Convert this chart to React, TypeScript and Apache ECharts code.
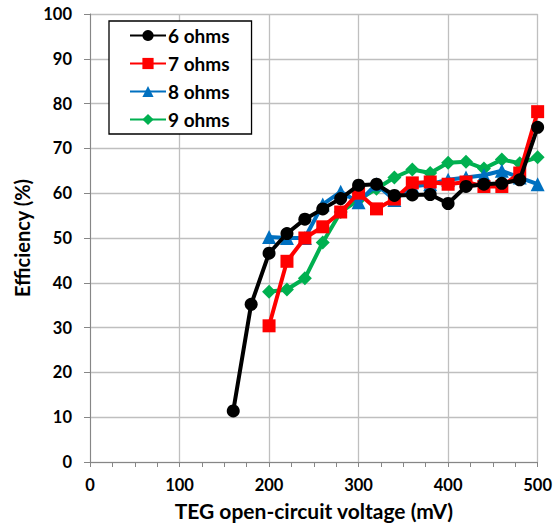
import React, { useEffect, useRef } from "react";
import * as echarts from "echarts";

const voltages = [160, 180, 200, 220, 240, 260, 280, 300, 320, 340, 360, 380, 400, 420, 440, 460, 480, 500];
const ohm6 = [11.4, 35.2, 46.6, 51, 54.2, 56.5, 58.8, 61.8, 62, 59.5, 59.6, 59.7, 57.7, 61.5, 62, 62.2, 63, 74.7];
const ohm7 = [null, null, 30.4, 44.8, 50, 52.5, 55.8, 60, 56.5, 58.7, 62.3, 62.5, 62, 62.5, 61.5, 61.5, 64.5, 78.2];
const ohm8 = [null, null, 50.2, 50, 50, 57.5, 60.3, 58, 62, 58.5, 61.5, 62, 63, 63.5, 64, 65, 63.5, 62];
const ohm9 = [null, null, 38, 38.5, 41, 49, 55.8, 58.5, 61, 63.5, 65.3, 64.5, 66.8, 67, 65.5, 67.5, 66.7, 68];
const seriesNames = ["6 ohms", "7 ohms", "8 ohms", "9 ohms"];
const seriesColors = ["#000000", "#ff0000", "#0070c0", "#00b050"];
const seriesSymbols = ["circle", "rect", "triangle", "diamond"];
const seriesSizes = [13, 13, 14, 14];

const FONT = "Lato, 'Open Sans', sans-serif";

export default function App() {
  const ref = useRef<HTMLDivElement>(null);
  useEffect(() => {
    if (!ref.current) return;
    const chart = echarts.init(ref.current, undefined, { renderer: "svg" });
    const allData = [ohm6, ohm7, ohm8, ohm9];
    chart.setOption({
      animation: false,
      backgroundColor: "#ffffff",
      textStyle: { fontFamily: FONT },
      grid: { left: 90, right: 10, top: 14, bottom: 63, containLabel: false },
      legend: {
        orient: "vertical",
        left: 109,
        top: 21,
        padding: [5, 22, 5, 20],
        itemGap: 9,
        itemWidth: 36,
        itemHeight: 14,
        borderColor: "#000000",
        borderWidth: 1.3,
        backgroundColor: "#ffffff",
        textStyle: { fontFamily: FONT, fontWeight: "bold", fontSize: 19, color: "#000", padding: [0, 0, 0, -3] },
        data: seriesNames,
      },
      xAxis: {
        type: "value",
        min: 0,
        max: 500,
        interval: 100,
        name: "TEG open-circuit voltage (mV)",
        nameLocation: "middle",
        nameGap: 38,
        nameTextStyle: { fontFamily: FONT, fontWeight: "bold", fontSize: 21, color: "#000" },
        axisLine: { show: true, onZero: false, lineStyle: { color: "#868686", width: 1 } },
        axisTick: { show: true, inside: false, length: 5, lineStyle: { color: "#868686" } },
        minorTick: { show: true, splitNumber: 4, length: 5, lineStyle: { color: "#868686" } },
        axisLabel: { fontFamily: FONT, fontWeight: "bold", fontSize: 16.5, color: "#000", margin: 14 },
        splitLine: { show: true, lineStyle: { color: "#bfbfbf", width: 1.3 } },
      },
      yAxis: {
        type: "value",
        min: 0,
        max: 100,
        interval: 10,
        name: "Efficiency (%)",
        nameLocation: "middle",
        nameGap: 54,
        nameTextStyle: { fontFamily: FONT, fontWeight: "bold", fontSize: 20, color: "#000" },
        axisLine: { show: true, lineStyle: { color: "#868686", width: 1 } },
        axisTick: { show: true, inside: false, length: 6, lineStyle: { color: "#868686" } },
        axisLabel: { fontFamily: FONT, fontWeight: "bold", fontSize: 16.5, color: "#000", margin: 18 },
        splitLine: { show: true, lineStyle: { color: "#bfbfbf", width: 1.3 } },
      },
      series: seriesNames.map((name, i) => ({
        name,
        type: "line",
        data: voltages.map((v, j) => [v, allData[i][j]]).filter((p) => p[1] !== null),
        symbol: seriesSymbols[i],
        symbolSize: seriesSizes[i],
        itemStyle: { color: seriesColors[i] },
        lineStyle: { color: seriesColors[i], width: 4 },
        z: 10 - i,
      })),
    });
    return () => chart.dispose();
  }, []);
  return (
    <div
      ref={ref}
      style={{ position: "fixed", left: 0, top: 0, width: 555, height: 526 }}
    />
  );
}
